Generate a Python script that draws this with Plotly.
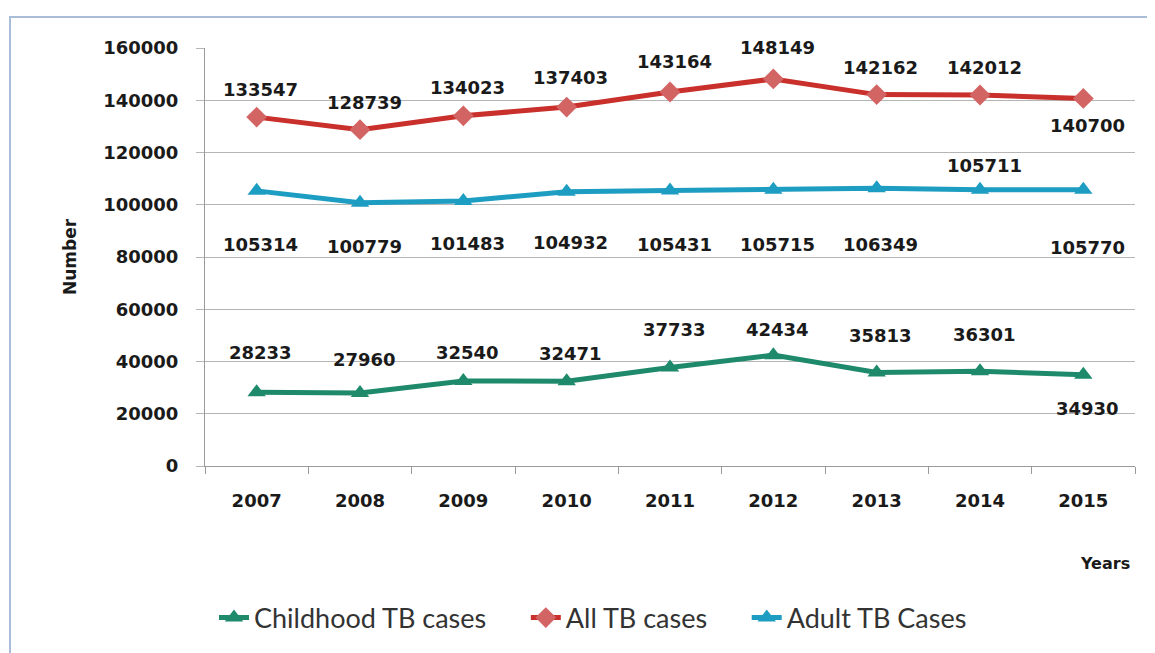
import plotly.graph_objects as go

years = ["2007", "2008", "2009", "2010", "2011", "2012", "2013", "2014", "2015"]
childhood = [28233, 27960, 32540, 32471, 37733, 42434, 35813, 36301, 34930]
all_tb = [133547, 128739, 134023, 137403, 143164, 148149, 142162, 142012, 140700]
adult = [105314, 100779, 101483, 104932, 105431, 105715, 106349, 105711, 105770]
series_names = ["Childhood TB cases", "All TB cases", "Adult TB Cases"]

# label pixel offsets (style only)
child_shift = [40, 33, 28, 28, 38, 26, 37, 37, -34]
all_shift = [28, 27, 28, 30, 30, 31, 27, 27, -27]
adult_shift = [-54, -44, -43, -51, -54, -55, -56, 24, -58]

GREEN = "#1e8a6b"
RED = "#c9302c"
RED_M = "#d36464"
BLUE = "#1e9dc2"

# page body has an 8px margin; offset so the plot area lands at x 205-1135, y 48-466
OFF = 8
L, R, T, B = 205 - OFF, 1155 - 1135 + OFF, 48 - OFF, 653 - 466 + OFF
PW, PH = 930, 418
PAD = "&nbsp;" * 5

fig = go.Figure()
fig.add_trace(go.Scatter(x=years, y=childhood, mode="lines+markers", name=series_names[0] + PAD,
                         line=dict(color=GREEN, width=5),
                         marker=dict(symbol="triangle-up", size=16, color=GREEN)))
fig.add_trace(go.Scatter(x=years, y=all_tb, mode="lines+markers", name=series_names[1] + PAD,
                         line=dict(color=RED, width=5),
                         marker=dict(symbol="diamond", size=16, color=RED_M)))
fig.add_trace(go.Scatter(x=years, y=adult, mode="lines+markers", name=series_names[2],
                         line=dict(color=BLUE, width=5),
                         marker=dict(symbol="triangle-up", size=16, color=BLUE)))

lab_font = dict(family="DejaVu Sans", size=18, color="#1a1a1a")
for series, shifts in ((childhood, child_shift), (all_tb, all_shift), (adult, adult_shift)):
    for i, (v, s) in enumerate(zip(series, shifts)):
        fig.add_annotation(x=i, y=v, xref="x", yref="y", text="<b>%d</b>" % v, showarrow=False,
                           yshift=s, xshift=4, font=lab_font)

fig.add_annotation(xref="paper", yref="paper", x=(1132 - 205) / PW, y=(466 - 563) / PH,
                   text="<b>Years</b>", showarrow=False,
                   font=dict(family="DejaVu Sans", size=16, color="#1a1a1a"),
                   xanchor="right", yanchor="middle")

# outer frame
fig.add_shape(type="rect", xref="paper", yref="paper",
              x0=(10 - 205) / PW, x1=(1150 - 205) / PW,
              y0=(466 - 670) / PH, y1=(466 - 17) / PH,
              line=dict(color="#a9bdd9", width=2), fillcolor="rgba(0,0,0,0)")

fig.update_layout(
    width=1155, height=653,
    margin=dict(l=L, r=R, t=T, b=B),
    paper_bgcolor="white", plot_bgcolor="white",
    showlegend=True,
    legend=dict(orientation="h", x=(593 - 205) / PW, y=(466 - 618) / PH,
                xanchor="center", yanchor="middle",
                font=dict(family="Lato", size=27, color="#333333"),
                tracegroupgap=0),
    xaxis=dict(type="category", range=[-0.5, 8.5], tickson="boundaries",
               showgrid=False, showline=True, linecolor="#9a9a9a", linewidth=1,
               ticks="outside", ticklen=7, tickcolor="#9a9a9a",
               tickfont=dict(family="DejaVu Sans", size=18, color="#1a1a1a"),
               ticklabelstandoff=18, tickprefix="<b>", ticksuffix="</b>"),
    yaxis=dict(range=[0, 160000], dtick=20000, tickformat="d",
               showgrid=True, gridcolor="#b5b5b5", gridwidth=1,
               showline=True, linecolor="#9a9a9a", ticks="outside", ticklen=8,
               tickcolor="#b5b5b5", zeroline=False,
               tickfont=dict(family="DejaVu Sans", size=18, color="#1a1a1a"),
               ticklabelstandoff=14,
               tickprefix="<b>", ticksuffix="</b>",
               title=dict(text="<b>Number</b>", font=dict(family="DejaVu Sans", size=17, color="#1a1a1a"),
                          standoff=22)),
)

fig.write_html("out.html")
